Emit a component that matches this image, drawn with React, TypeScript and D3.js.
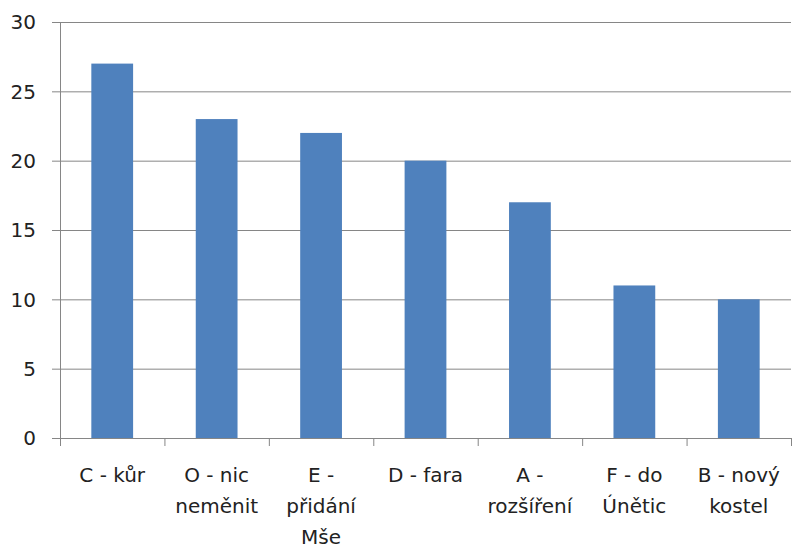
import React from "react";
import * as d3 from "d3";

const categories = ["C - kůr", "O - nic neměnit", "E - přidání Mše", "D - fara", "A - rozšíření", "F - do Únětic", "B - nový kostel"];
const labelLines = [["C - kůr"], ["O - nic", "neměnit"], ["E -", "přidání", "Mše"], ["D - fara"], ["A -", "rozšíření"], ["F - do", "Únětic"], ["B - nový", "kostel"]];
const values = [27, 23, 22, 20, 17, 11, 10];
const yTicks = [0, 5, 10, 15, 20, 25, 30];

const W = 792, H = 554;
const left = 60, right = 791, top = 22, bottom = 438;
const font = "'DejaVu Sans', sans-serif";

export default function App() {
  const x = d3.scaleBand<string>().domain(categories).range([left, right]).paddingInner(0.6).paddingOuter(0.3);
  const xb = d3.scaleBand<string>().domain(categories).range([left, right]);
  const y = d3.scaleLinear().domain([0, 30]).range([bottom, top]);
  const gridColor = "#868686";
  return (
    <div style={{ position: "absolute", left: 0, top: 0 }}>
      <svg width={W} height={H} style={{ display: "block", background: "#fff" }}>
        {yTicks.map((t) => (
          <g key={t}>
            <line x1={52} x2={right} y1={y(t) + 0.5} y2={y(t) + 0.5} stroke={gridColor} strokeWidth={1} />
            <text x={36} y={y(t)} dy="0.36em" textAnchor="end" fontFamily={font} fontSize={20} fill="#222">{t}</text>
          </g>
        ))}
        <line x1={left + 0.5} x2={left + 0.5} y1={top} y2={bottom} stroke={gridColor} strokeWidth={1} />
        {categories.map((c, i) => (
          <rect key={c} x={x(c)} y={y(values[i])} width={x.bandwidth()} height={bottom - y(values[i])} fill="#4F81BD" />
        ))}
        {categories.map((c) => (
          <line key={"t" + c} x1={(xb(c) as number) + 0.5} x2={(xb(c) as number) + 0.5} y1={bottom} y2={446} stroke={gridColor} strokeWidth={1} />
        ))}
        <line x1={right + 0.5} x2={right + 0.5} y1={bottom} y2={446} stroke={gridColor} strokeWidth={1} />
        {categories.map((c, i) => (
          <text key={"l" + c} x={(xb(c) as number) + xb.bandwidth() / 2} y={482} textAnchor="middle" fontFamily={font} fontSize={20} fill="#222">
            {labelLines[i].map((ln, j) => (
              <tspan key={j} x={(xb(c) as number) + xb.bandwidth() / 2} dy={j === 0 ? 0 : 31}>{ln}</tspan>
            ))}
          </text>
        ))}
      </svg>
    </div>
  );
}
